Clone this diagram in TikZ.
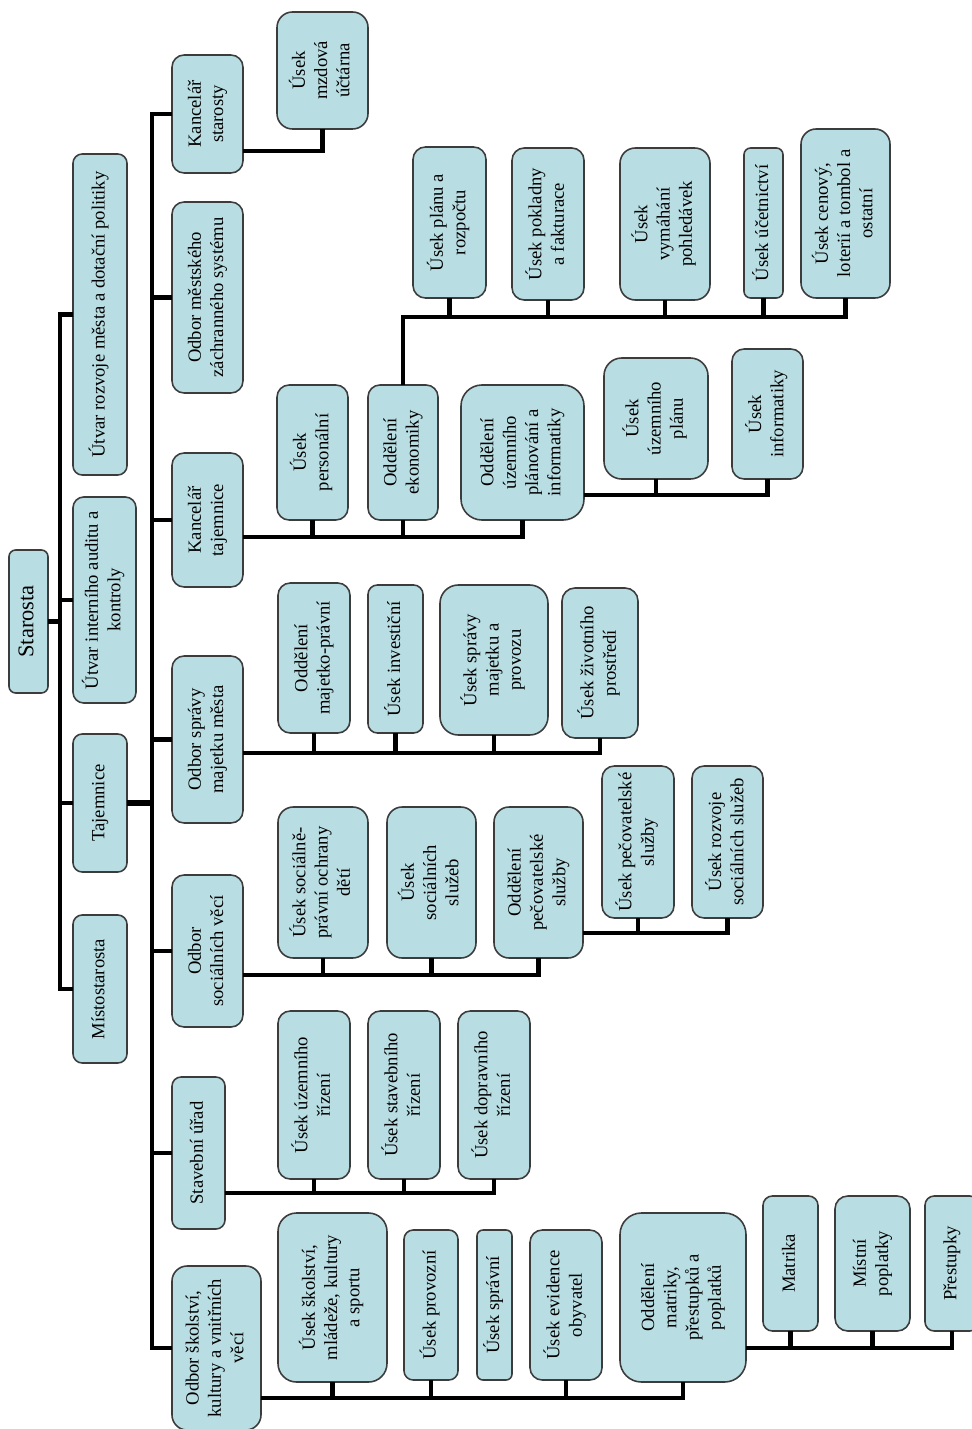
\documentclass[tikz,border=0pt]{standalone}
\usepackage{fontspec}
\setmainfont{Liberation Serif}
\usepackage{graphicx}
\definecolor{boxfill}{RGB}{184,222,227}
\definecolor{boxline}{RGB}{60,60,60}
\newcommand{\vlabel}[1]{\rotatebox{90}{\begin{tabular}{@{}c@{}}#1\end{tabular}}}
\tikzset{
  orgbox/.style 2 args={draw=boxline, fill=boxfill, line width=0.9pt, inner sep=0pt, outer sep=0pt,
    minimum width=#1*0.02cm, minimum height=#2*0.02cm, rounded corners={min(#1,#2)*0.0034cm},
    font=\fontsize{10.6pt}{12.7pt}\selectfont},
  link/.style={line width=0.09cm, black}
}

\begin{document}
\begin{tikzpicture}[x=0.02cm, y=-0.02cm]
    \useasboundingbox (0,0) rectangle (971,1429);
    \node[orgbox={39}{143}, font=\fontsize{12.8pt}{14pt}\selectfont] (starosta) at (28.5,621.5) {\vlabel{Starosta}};
    \node[orgbox={54}{321}] (utvarRozvoj) at (100,314.5) {\vlabel{Útvar rozvoje města a dotační politiky}};
    \node[orgbox={63}{206}] (utvarAudit) at (104.5,600) {\vlabel{Útvar interního auditu a\\kontroly}};
    \node[orgbox={54}{138}] (tajemnice) at (100,803) {\vlabel{Tajemnice}};
    \node[orgbox={54}{148}] (mistostarosta) at (100,989) {\vlabel{Místostarosta}};
    \node[orgbox={71}{118}] (kStarosty) at (207.5,114) {\vlabel{Kancelář\\starosty}};
    \node[orgbox={71}{191}] (odborMZS) at (207.5,297.5) {\vlabel{Odbor městského\\záchranného systému}};
    \node[orgbox={71}{134}] (kTajemnice) at (207.5,520) {\vlabel{Kancelář\\tajemnice}};
    \node[orgbox={71}{167}] (odborMajetek) at (207.5,739.5) {\vlabel{Odbor správy\\majetku města}};
    \node[orgbox={71}{152}] (odborSocial) at (207.5,951) {\vlabel{Odbor\\sociálních věcí}};
    \node[orgbox={53}{152}] (stavebni) at (198.5,1153) {\vlabel{Stavební úřad}};
    \node[orgbox={89}{164}] (odborSkol) at (216.5,1348) {\vlabel{Odbor školství,\\kultury a vnitřních\\věcí}};
    \node[orgbox={91}{117}] (mzdova) at (322.5,70.5) {\vlabel{Úsek\\mzdová\\účtárna}};
    \node[orgbox={71}{135}] (personal) at (312.5,452.5) {\vlabel{Úsek\\personální}};
    \node[orgbox={70}{135}] (ekonomiky) at (403,452.5) {\vlabel{Oddělení\\ekonomiky}};
    \node[orgbox={123}{135}] (uzPlanInf) at (522.5,452.5) {\vlabel{Oddělení\\územního\\plánování a\\informatiky}};
    \node[orgbox={104}{121}] (uzPlan) at (656,418.5) {\vlabel{Úsek\\územního\\plánu}};
    \node[orgbox={71}{130}] (informatika) at (767.5,414) {\vlabel{Úsek\\informatiky}};
    \node[orgbox={73}{151}] (planRozp) at (449.5,222.5) {\vlabel{Úsek plánu a\\rozpočtu}};
    \node[orgbox={72}{152}] (pokladna) at (548,224) {\vlabel{Úsek pokladny\\a fakturace}};
    \node[orgbox={90}{152}] (vymahani) at (665,224) {\vlabel{Úsek\\vymáhání\\pohledávek}};
    \node[orgbox={39}{150}] (ucetnictvi) at (763.5,223) {\vlabel{Úsek účetnictví}};
    \node[orgbox={89}{169}] (cenovy) at (845.5,213.5) {\vlabel{Úsek cenový,\\loterií a tombol a\\ostatní}};
    \node[orgbox={72}{150}] (majPravni) at (314,658) {\vlabel{Oddělení\\majetko-právní}};
    \node[orgbox={55}{148}] (investicni) at (395.5,659) {\vlabel{Úsek investiční}};
    \node[orgbox={108}{150}] (spravaMaj) at (494,660) {\vlabel{Úsek správy\\majetku a\\provozu}};
    \node[orgbox={76}{150}] (zivotni) at (600,663) {\vlabel{Úsek životního\\prostředí}};
    \node[orgbox={90}{151}] (ospod) at (323,882.5) {\vlabel{Úsek sociálně-\\právní ochrany\\dětí}};
    \node[orgbox={89}{151}] (socSluzby) at (431.5,882.5) {\vlabel{Úsek\\sociálních\\služeb}};
    \node[orgbox={89}{151}] (odPecov) at (538.5,882.5) {\vlabel{Oddělení\\pečovatelské\\služby}};
    \node[orgbox={72}{152}] (usPecov) at (638,842) {\vlabel{Úsek pečovatelské\\služby}};
    \node[orgbox={71}{152}] (rozvojSoc) at (727.5,842) {\vlabel{Úsek rozvoje\\sociálních služeb}};
    \node[orgbox={72}{168}] (uzemRiz) at (314,1095) {\vlabel{Úsek územního\\řízení}};
    \node[orgbox={72}{168}] (stavRiz) at (404,1095) {\vlabel{Úsek stavebního\\řízení}};
    \node[orgbox={72}{168}] (dopRiz) at (494,1095) {\vlabel{Úsek dopravního\\řízení}};
    \node[orgbox={109}{169}] (skolstvi) at (332.5,1297.5) {\vlabel{Úsek školství,\\mládeže, kultury\\a sportu}};
    \node[orgbox={54}{150}] (provozni) at (431,1305) {\vlabel{Úsek provozní}};
    \node[orgbox={35}{150}] (spravni) at (494.5,1305) {\vlabel{Úsek správní}};
    \node[orgbox={72}{150}] (evidence) at (566,1305) {\vlabel{Úsek evidence\\obyvatel}};
    \node[orgbox={126}{169}] (odMatrika) at (683,1297.5) {\vlabel{Oddělení\\matriky,\\přestupků a\\poplatků}};
    \node[orgbox={55}{135}] (matrika) at (790.5,1263.5) {\vlabel{Matrika}};
    \node[orgbox={75}{135}] (poplatky) at (872.5,1263.5) {\vlabel{Místní\\poplatky}};
    \node[orgbox={54}{135}] (prestupky) at (952,1263.5) {\vlabel{Přestupky}};

    \coordinate (busA) at (60,650);
    \coordinate (busB) at (152,700);
    \coordinate (lvMzd) at (0,151);
    \coordinate (lvKT) at (0,537);
    \coordinate (lvEk) at (0,317);
    \coordinate (lvUP) at (0,495);
    \coordinate (lvMj) at (0,753);
    \coordinate (lvSo) at (0,975);
    \coordinate (lvPe) at (0,933);
    \coordinate (lvSt) at (0,1193);
    \coordinate (lvSk) at (0,1398);
    \coordinate (lvMa) at (0,1348);

    \draw[link] (utvarRozvoj.west) -| (busA) |- (mistostarosta.west);
    \draw[link] (starosta.east) -- (starosta.east -| busA);
    \draw[link] (utvarAudit.west -| busA) -- (utvarAudit.west);
    \draw[link] (tajemnice.west -| busA) -- (tajemnice.west);
    \draw[link, line width=0.13cm] (tajemnice.east) -- (tajemnice.east -| busB);

    \draw[link] (kStarosty.west) -| (busB) |- (odborSkol.west);
    \foreach \n in {odborMZS, kTajemnice, odborMajetek, odborSocial, stavebni}
        \draw[link] (\n.west -| busB) -- (\n.west);

    \draw[link] (kStarosty.east |- lvMzd) -| (mzdova.south);

    \draw[link] (kTajemnice.east |- lvKT) -| (uzPlanInf.south);
    \foreach \n in {personal, ekonomiky}
        \draw[link] (\n.south) -- (\n.south |- lvKT);
    \draw[link] (ekonomiky.north) -- (ekonomiky.north |- lvEk) -| (cenovy.south);
    \foreach \n in {planRozp, pokladna, vymahani, ucetnictvi}
        \draw[link] (\n.south) -- (\n.south |- lvEk);
    \draw[link] (uzPlanInf.east |- lvUP) -| (informatika.south);
    \draw[link] (uzPlan.south) -- (uzPlan.south |- lvUP);

    \draw[link] (odborMajetek.east |- lvMj) -| (zivotni.south);
    \foreach \n in {majPravni, investicni, spravaMaj}
        \draw[link] (\n.south) -- (\n.south |- lvMj);

    \draw[link] (odborSocial.east |- lvSo) -| (odPecov.south);
    \foreach \n in {ospod, socSluzby}
        \draw[link] (\n.south) -- (\n.south |- lvSo);
    \draw[link] (odPecov.east |- lvPe) -| (rozvojSoc.south);
    \draw[link] (usPecov.south) -- (usPecov.south |- lvPe);

    \draw[link] (stavebni.east |- lvSt) -| (dopRiz.south);
    \foreach \n in {uzemRiz, stavRiz}
        \draw[link] (\n.south) -- (\n.south |- lvSt);

    \draw[link] (odborSkol.east |- lvSk) -| (odMatrika.south);
    \foreach \n in {skolstvi, provozni, evidence}
        \draw[link] (\n.south) -- (\n.south |- lvSk);
    \draw[link] (odMatrika.east |- lvMa) -| (prestupky.south);
    \foreach \n in {matrika, poplatky}
        \draw[link] (\n.south) -- (\n.south |- lvMa);
\end{tikzpicture}
\end{document}
